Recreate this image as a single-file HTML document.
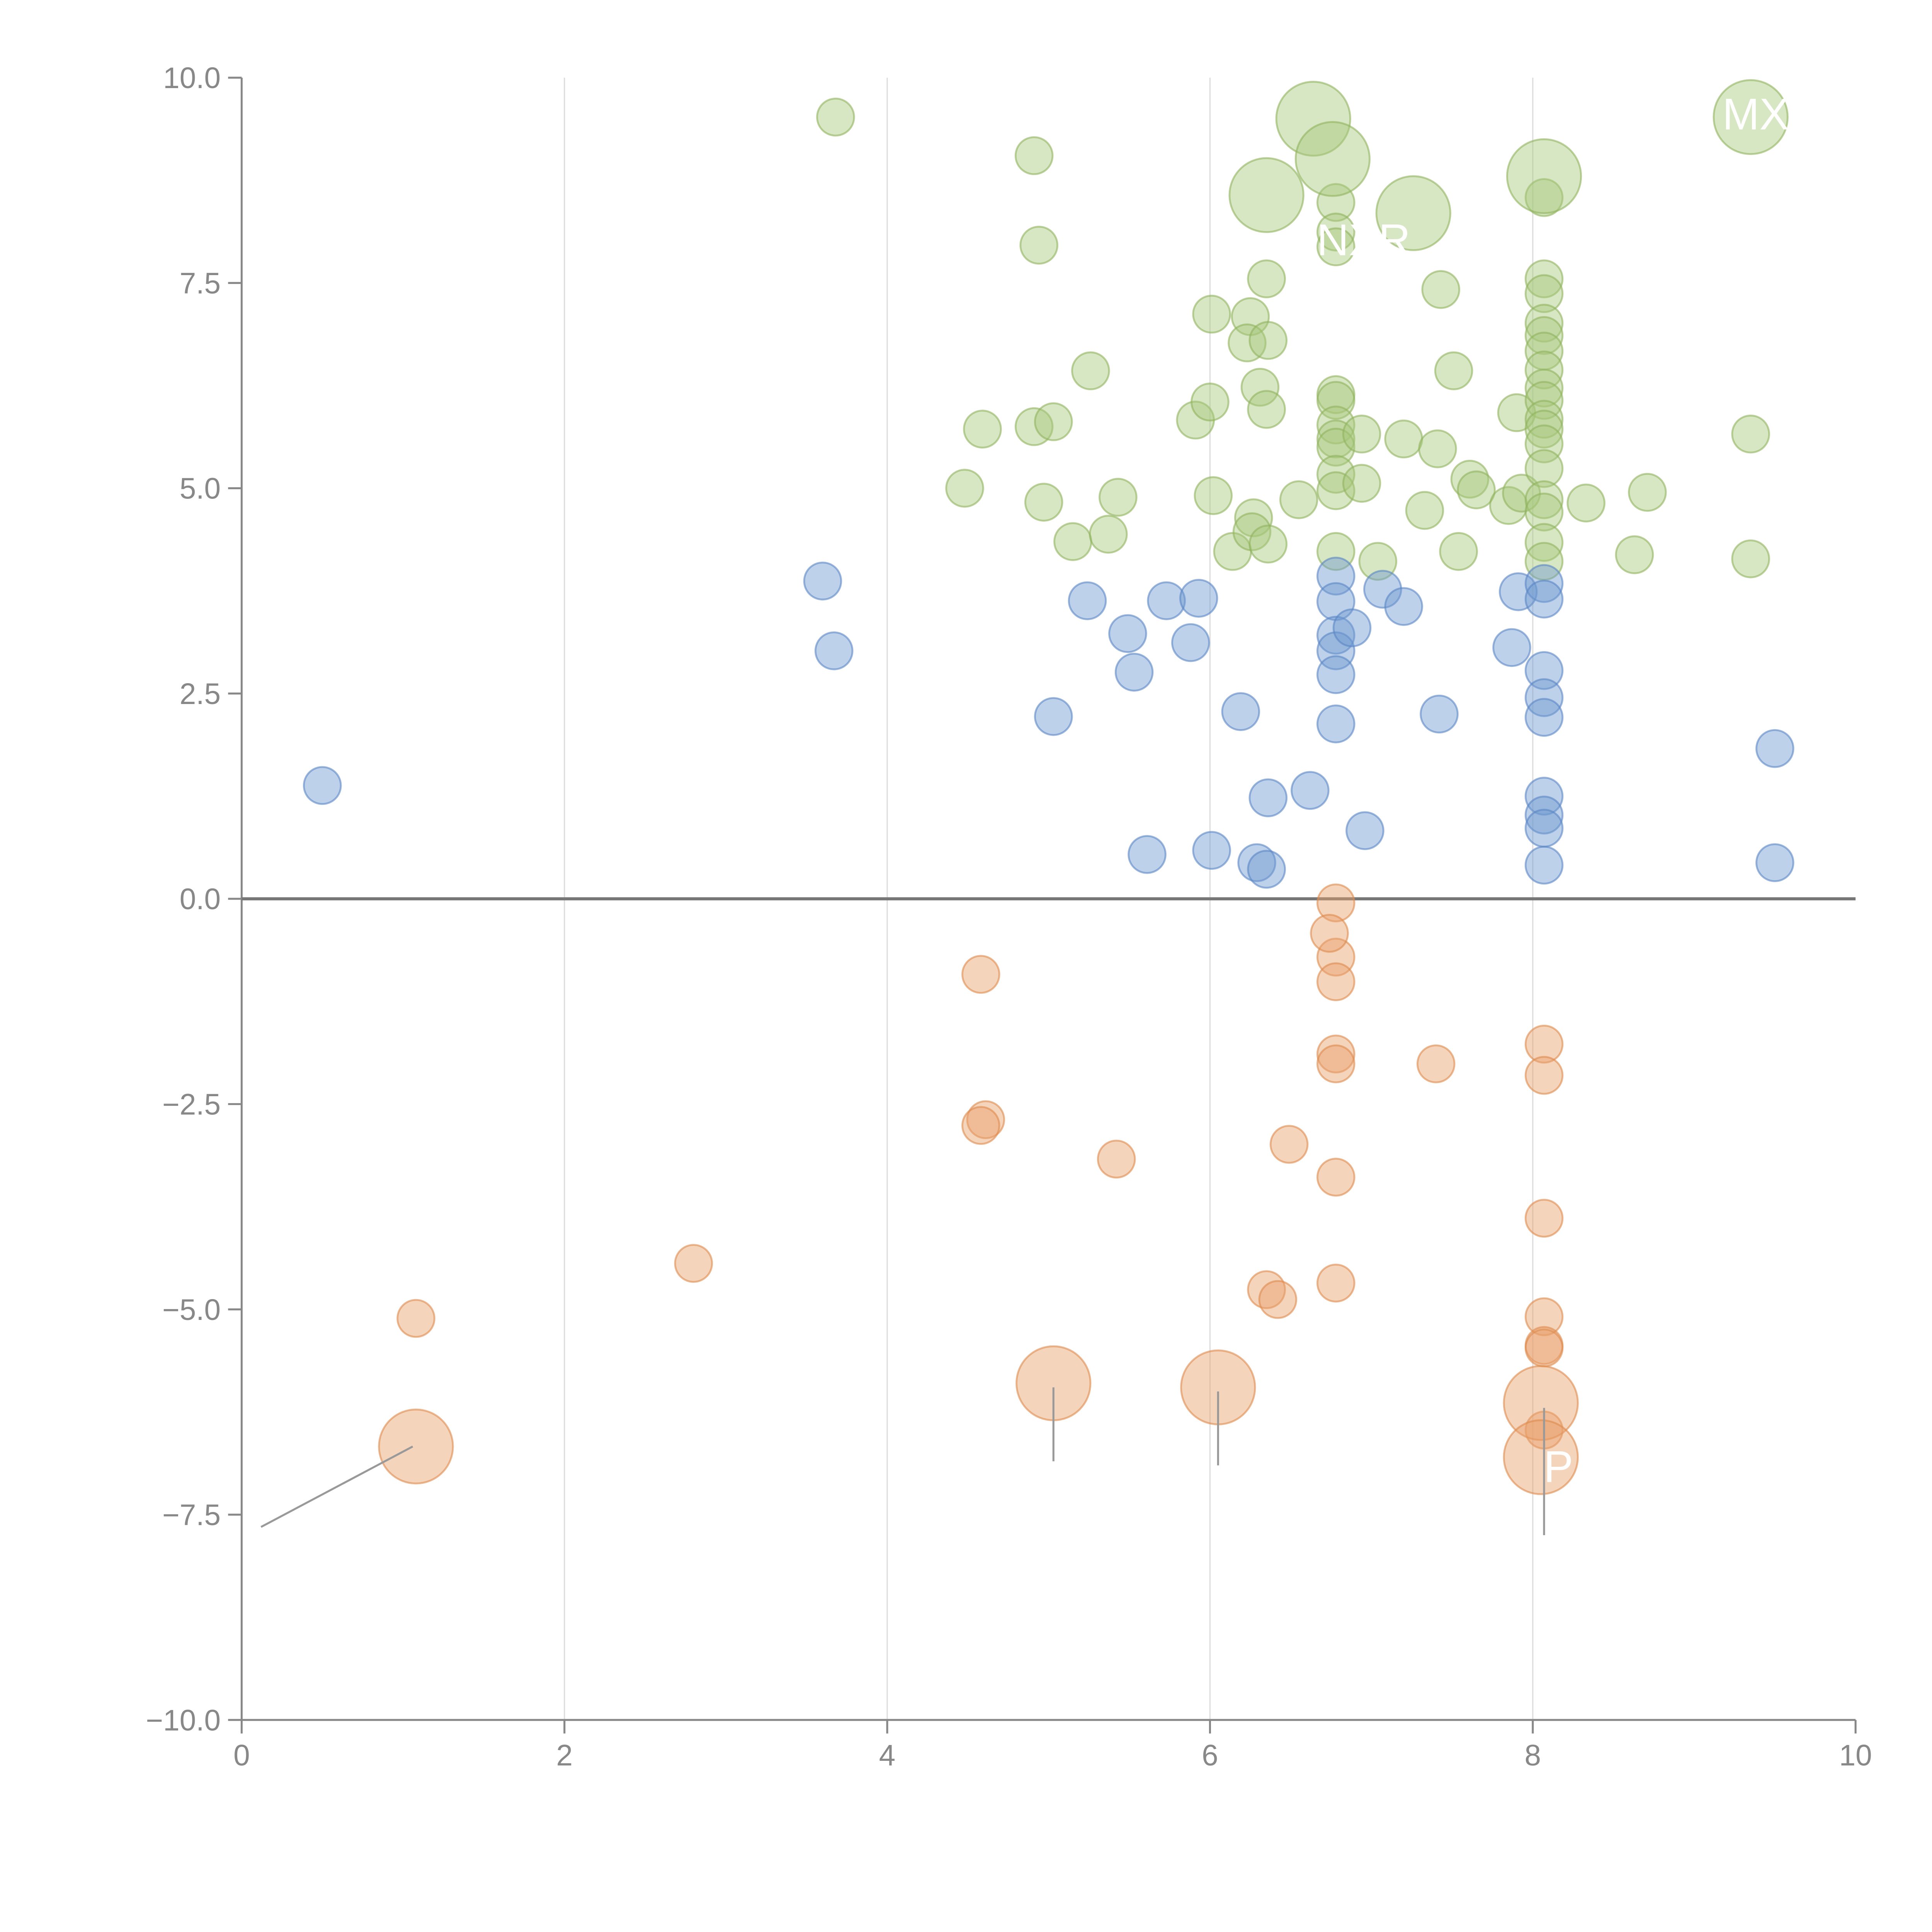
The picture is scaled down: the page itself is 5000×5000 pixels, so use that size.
<!DOCTYPE html>
<html><head><meta charset="utf-8"><style>html,body{margin:0;padding:0;background:#fff}svg{display:block}</style></head>
<body>
<svg id="chart" xmlns="http://www.w3.org/2000/svg" width="5000" height="5000" viewBox="0 0 1567 1567" font-family="Liberation Sans, sans-serif">
<rect width="1567" height="1567" fill="#fff"/>
<g id="grid"></g>
<g id="axes"></g>
<g id="marks"></g>
<g id="labels"></g>
</svg>
<script>
const xTicks=[0,2,4,6,8,10];
const yTicks=[10,7.5,5,2.5,0,-2.5,-5,-7.5,-10];
const yTickLabels=["10.0","7.5","5.0","2.5","0.0","\u22122.5","\u22125.0","\u22127.5","\u221210.0"];
const greenX=[3.68,4.91,4.94,4.59,4.91,5.03,4.48,4.97,5.15,5.37,5.26,5.43,5.91,6.00,6.01,6.02,6.14,6.25,6.23,6.36,6.31,6.35,6.35,6.27,6.26,6.36,6.55,6.78,6.78,6.78,6.78,6.78,6.78,6.78,6.78,6.78,6.78,6.78,6.94,6.94,7.04,7.20,7.33,7.41,7.43,7.51,7.54,7.61,7.65,7.85,7.90,7.93,8.07,8.07,8.07,8.07,8.07,8.07,8.07,8.07,8.07,8.07,8.07,8.07,8.07,8.07,8.07,8.07,8.07,8.33,8.63,8.71,9.35,9.35];
const greenY=[9.52,9.05,7.96,5.72,5.75,5.81,5.00,4.83,4.35,4.44,6.43,4.89,5.83,6.05,7.12,4.91,4.23,7.09,6.77,6.80,6.23,5.96,7.55,4.64,4.47,4.32,4.86,8.48,8.12,7.94,6.14,6.07,5.77,5.60,5.50,5.17,4.97,4.23,5.66,5.06,4.11,5.60,4.73,5.48,7.42,6.43,4.23,5.11,4.98,4.79,5.92,4.94,8.54,7.55,7.37,7.01,6.86,6.67,6.44,6.22,6.07,5.84,5.72,5.54,5.24,4.86,4.71,4.34,4.11,4.82,4.19,4.95,5.66,4.14];
const greenBigX=[6.64,6.76,6.35,7.26,8.07,9.35];
const greenBigY=[9.50,9.01,8.57,8.35,8.80,9.52];
const blueX=[0.50,3.60,3.67,5.03,5.24,5.49,5.53,5.73,5.88,5.93,6.19,6.36,6.62,5.61,6.01,6.29,6.35,6.78,6.78,6.78,6.78,6.78,6.78,6.88,7.07,7.20,6.96,7.42,7.87,7.91,8.07,8.07,8.07,8.07,8.07,8.07,8.07,8.07,8.07,9.50,9.50];
const blueY=[1.38,3.87,3.02,2.22,3.63,3.23,2.76,3.63,3.12,3.66,2.28,1.23,1.32,0.54,0.59,0.44,0.36,3.93,3.62,3.21,3.02,2.73,2.13,3.30,3.77,3.56,0.83,2.25,3.06,3.74,3.84,3.65,2.78,2.45,2.21,1.25,1.02,0.86,0.41,1.83,0.44];
const orangeX=[4.58,4.61,4.58,5.42,6.49,6.78,6.78,6.78,6.78,6.78,6.78,6.78,6.74,7.40,8.07,8.07,8.07,8.07,8.07,8.07,8.07,6.35,6.42,2.80,1.08];
const orangeY=[-0.92,-2.69,-2.76,-3.17,-2.99,-0.05,-0.71,-1.01,-1.89,-2.01,-3.39,-4.68,-0.42,-2.01,-1.77,-2.15,-3.89,-5.09,-5.44,-5.47,-6.47,-4.76,-4.88,-4.44,-5.11];
const orangeBigX=[1.08,5.03,6.05,8.05,8.05];
const orangeBigY=[-6.67,-5.90,-5.95,-6.14,-6.80];

const X0=196,X1=1505,Y0=63,Y1=1395;
const sx=v=>X0+(v-0)/10*(X1-X0);
const sy=v=>Y0+(10-v)/20*(Y1-Y0);
const NS="http://www.w3.org/2000/svg";
function mk(tag,parent,attrs){const e=document.createElementNS(NS,tag);for(const k in attrs)e.setAttribute(k,attrs[k]);parent.appendChild(e);return e;}
const grid=document.getElementById('grid'),axes=document.getElementById('axes'),marks=document.getElementById('marks'),labels=document.getElementById('labels');
xTicks.forEach(t=>{if(t>0&&t<10){const l=mk('line',grid,{x1:sx(t),x2:sx(t),y1:Y0,y2:Y1,stroke:'#ddd','stroke-width':1});

}});
mk('line',axes,{x1:X0,x2:X0,y1:Y0,y2:Y1,stroke:'#888','stroke-width':1.6});
mk('line',axes,{x1:X0,x2:X1,y1:Y1,y2:Y1,stroke:'#888','stroke-width':1.6});
xTicks.forEach(t=>{mk('line',axes,{x1:sx(t),x2:sx(t),y1:Y1,y2:Y1+11,stroke:'#888','stroke-width':1.6});
const tx=mk('text',axes,{x:sx(t),y:Y1+37,'text-anchor':'middle','font-size':24,fill:'#888'});tx.textContent=t;

});
yTicks.forEach((t,i)=>{mk('line',axes,{x1:X0-11,x2:X0,y1:sy(t),y2:sy(t),stroke:'#888','stroke-width':1.6});
const tx=mk('text',axes,{x:X0-17,y:sy(t)+8.5,'text-anchor':'end','font-size':24,fill:'#888'});tx.textContent=yTickLabels[i];

});
[[0.12,-7.65,1.06,-6.67],[5.03,-5.95,5.03,-6.85],[6.05,-6.0,6.05,-6.9],[8.07,-6.2,8.07,-7.75]].forEach(s=>{
const l=mk('line',labels,{x1:sx(s[0]),y1:sy(s[1]),x2:sx(s[2]),y2:sy(s[3]),stroke:'#999','stroke-width':1.6});

});
function series(xs,ys,r,fill,stroke,name){xs.forEach((x,i)=>{const c=mk('circle',marks,{cx:sx(x),cy:sy(ys[i]),r:r,fill:fill,'fill-opacity':0.45,stroke:stroke,'stroke-opacity':0.6,'stroke-width':1.5});

});}
series(greenX,greenY,15,'#a6c77a','#8fb35e','bubble-green');
series(greenBigX,greenBigY,30,'#a6c77a','#8fb35e','bubble-green-large');
series(blueX,blueY,15,'#6f98d0','#5a86c4','bubble-blue');
series(orangeX,orangeY,15,'#e8a06a','#de8a4c','bubble-orange');
series(orangeBigX,orangeBigY,30,'#e8a06a','#de8a4c','bubble-orange-large');
const z=mk('line',axes,{x1:X0,x2:X1,y1:sy(0),y2:sy(0),stroke:'#777','stroke-width':2.5});


[['MX',1397,105],['NXR',1068,207],['P',1252,1202]].forEach(a=>{const t=mk('text',labels,{x:a[1],y:a[2],'font-size':36,fill:'#fff'});t.textContent=a[0];

});
</script>
</body></html>
